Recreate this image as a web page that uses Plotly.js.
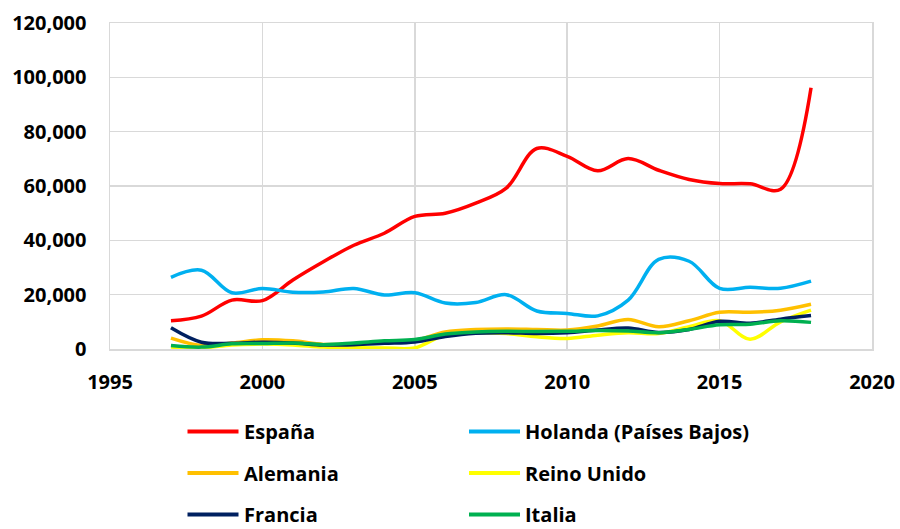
<!DOCTYPE html>
<html>
<head>
<meta charset="utf-8">
<script src="https://cdn.plot.ly/plotly-3.0.1.min.js"></script>
<style>html,body{margin:0;padding:0;background:#fff;}#chart{width:900px;height:529px;}</style>
</head>
<body>
<div id="chart"></div>
<script>
const years = [1997,1998,1999,2000,2001,2002,2003,2004,2005,2006,2007,2008,2009,2010,2011,2012,2013,2014,2015,2016,2017,2018];
const espana  = [10400,12100,18000,17800,25400,32100,38200,42600,48800,50000,53700,59200,73800,70900,65600,70100,65800,62400,60900,60800,58800,96200];
const holanda = [26400,29000,20700,22300,20900,21000,22300,19900,20700,16900,17100,20000,14000,13100,12200,18000,33000,32300,22300,22700,22400,25000];
const alemania= [4000,1300,2200,3400,3000,1700,1900,2600,3200,6300,7200,7400,7200,7000,8500,10900,8200,10400,13500,13500,14300,16500];
const reino   = [700,400,1500,1800,1500,700,500,400,400,5200,6000,5700,4500,3900,5100,6000,5700,8200,10400,3600,10000,14300];
const francia = [7800,2500,2100,2500,2200,1500,1600,2100,2600,4600,5800,6000,5700,6000,7000,7700,6100,7200,10200,9500,11000,12300];
const italia  = [1300,700,1900,2000,2200,1600,2200,3000,3500,5500,6300,6500,6400,6500,6800,6600,6000,7200,8900,9100,10400,9800];

const names  = ['España','Holanda (Países Bajos)','Alemania','Reino Unido','Francia','Italia'];
const series = [espana, holanda, alemania, reino, francia, italia];
const colors = ['#FF0000','#00B0F0','#FFC000','#FFFF00','#002060','#00B050'];

const FONT = 'Open Sans, Lato, sans-serif';

const data = series.map((s, i) => ({
  x: years, y: s, name: names[i], type: 'scatter', mode: 'lines',
  line: {color: colors[i], width: 3.5, shape: 'spline', smoothing: 1},
  showlegend: false, hoverinfo: 'x+y+name'
}));

// Legend drawn by hand below the plot (2 columns x 3 rows)
const PL = 110, PW = 762, PB = 349, PH = 326;
const xp = px => (px - PL) / PW;
const yp = py => (PB - py) / PH;
const colX = [187.5, 469];
const rowY = [431.5, 473, 514.5];
const shapes = [], annotations = [];
names.forEach((n, i) => {
  const c = i % 2, r = Math.floor(i / 2);
  shapes.push({type: 'line', xref: 'paper', yref: 'paper',
    x0: xp(colX[c]), x1: xp(colX[c] + 51), y0: yp(rowY[r]), y1: yp(rowY[r]),
    line: {color: colors[i], width: 4}});
  annotations.push({xref: 'paper', yref: 'paper', x: xp(colX[c] + 54), y: yp(rowY[r]),
    xanchor: 'left', yanchor: 'middle', showarrow: false, text: n,
    font: {family: FONT, size: 20, color: '#000', weight: 'bold'}});
});

const layout = {
  width: 900, height: 529,
  margin: {l: 110, r: 28, t: 23, b: 180},
  paper_bgcolor: '#fff', plot_bgcolor: '#fff',
  font: {family: FONT, size: 20, color: '#000', weight: 'bold'},
  xaxis: {
    range: [1995, 2020], dtick: 5, tick0: 1995, tickformat: 'd',
    showgrid: true, gridcolor: '#D9D9D9', gridwidth: 1.5,
    showline: true, linecolor: '#D9D9D9', linewidth: 1.5, mirror: true,
    zeroline: false, ticks: '', ticklabelstandoff: 14,
    tickfont: {family: FONT, size: 20, color: '#000', weight: 'bold'}
  },
  yaxis: {
    range: [0, 120000], dtick: 20000, tickformat: ',d',
    showgrid: true, gridcolor: '#D9D9D9', gridwidth: 1.5,
    showline: true, linecolor: '#D9D9D9', linewidth: 1.5, mirror: true,
    zeroline: false, ticks: '', ticklabelstandoff: 18,
    tickfont: {family: FONT, size: 20, color: '#000', weight: 'bold'}
  },
  showlegend: false,
  shapes: shapes,
  annotations: annotations
};

Plotly.newPlot('chart', data, layout, {displayModeBar: false, staticPlot: true});
</script>
</body>
</html>
